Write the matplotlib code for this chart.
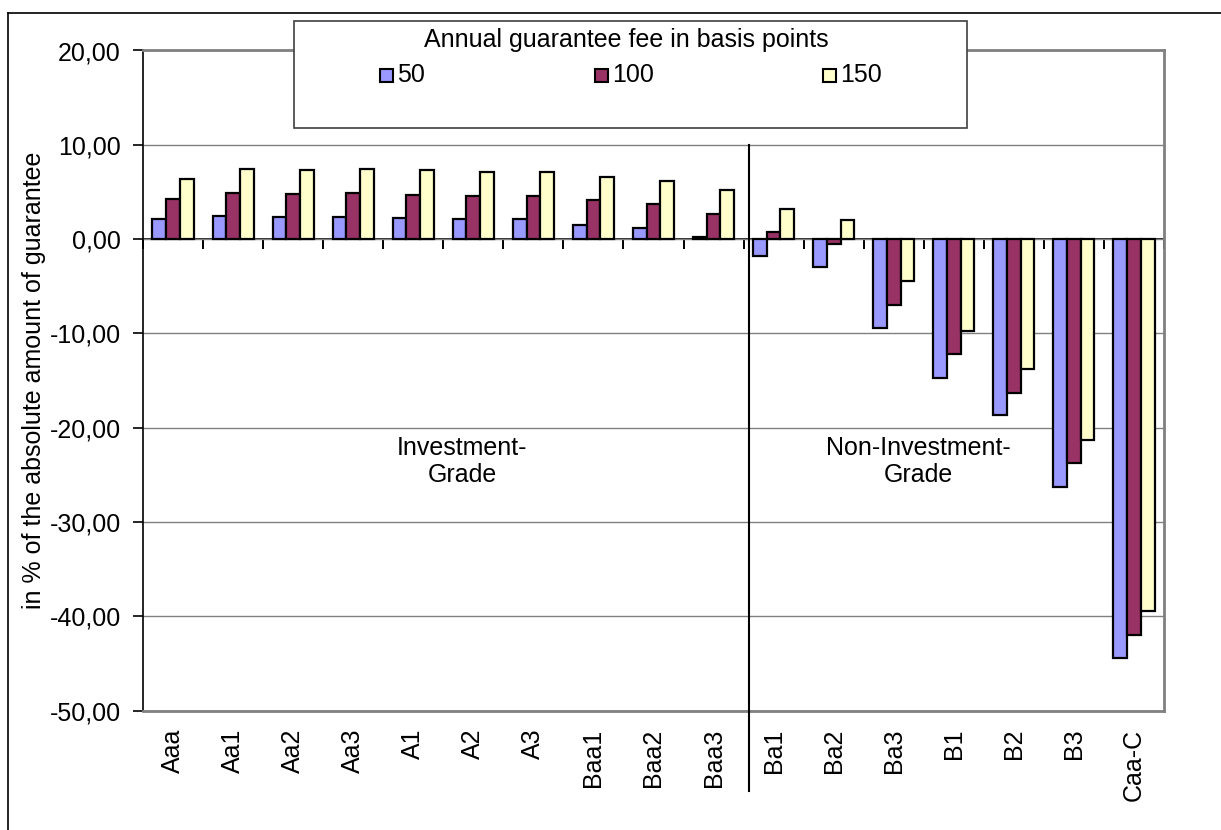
import numpy as np
import matplotlib.pyplot as plt
from matplotlib.patches import Rectangle
from matplotlib.lines import Line2D
from matplotlib.ticker import FuncFormatter

plt.rcParams['font.family'] = ['Liberation Sans', 'DejaVu Sans']

# ratings (10 investment grade, 7 non-investment grade)
categories = ['Aaa', 'Aa1', 'Aa2', 'Aa3', 'A1', 'A2', 'A3', 'Baa1', 'Baa2', 'Baa3',
              'Ba1', 'Ba2', 'Ba3', 'B1', 'B2', 'B3', 'Caa-C']
n_investment = 10

# annual guarantee fee in basis points
fees = ['50', '100', '150']
fee_50 = [2.1, 2.4, 2.3, 2.3, 2.2, 2.1, 2.1, 1.5, 1.2, 0.2,
          -1.8, -3.0, -9.4, -14.7, -18.7, -26.3, -44.4]
fee_100 = [4.3, 4.9, 4.8, 4.9, 4.7, 4.6, 4.6, 4.1, 3.7, 2.7,
           0.7, -0.5, -7.0, -12.2, -16.3, -23.7, -42.0]
fee_150 = [6.4, 7.4, 7.3, 7.4, 7.3, 7.1, 7.1, 6.6, 6.2, 5.2,
           3.2, 2.0, -4.4, -9.7, -13.8, -21.3, -39.4]
series = [fee_50, fee_100, fee_150]
colors = ['#9999FF', '#993366', '#FFFFCC']

W, H = 1221, 830
fig = plt.figure(figsize=(W / 100, H / 100), dpi=100)
ax = fig.add_axes([143 / W, 1 - 710.5 / H, 1021 / W, 660 / H])

x = np.arange(len(categories))
w = 0.228
for i, (vals, c) in enumerate(zip(series, colors)):
    ax.bar(x + (i - 1) * w, vals, w, color=c, edgecolor='black', linewidth=1.6, zorder=3)

ax.set_xlim(-0.5, len(categories) - 0.5)
ax.set_ylim(-50, 20)

# frame of the plot area
for s in ['top', 'right', 'bottom']:
    ax.spines[s].set_color('#808080')
    ax.spines[s].set_linewidth(2)
ax.spines['left'].set_color('black')
ax.spines['left'].set_linewidth(1.2)

ax.set_yticks(range(-50, 21, 10))
ax.yaxis.set_major_formatter(FuncFormatter(lambda v, p: f'{v:.2f}'.replace('.', ',')))
ax.tick_params(axis='y', direction='out', length=7, width=1.2, pad=9, labelsize=18)
ax.set_xticks(x, labels=categories, rotation=90)
ax.tick_params(axis='x', length=0, pad=13, labelsize=18)
ax.yaxis.grid(True, color='#808080', linewidth=1)
ax.set_axisbelow(True)

ax.set_ylabel('in % of the absolute amount of guarantee', fontsize=18)
ax.yaxis.set_label_coords(-0.095, 0.5)

# category axis crossing at zero
zero_pos = (0 - ax.get_ylim()[0]) / (ax.get_ylim()[1] - ax.get_ylim()[0])
sec = ax.secondary_xaxis(zero_pos)
sec.set_xticks(np.arange(-0.5, len(categories), 1))
sec.tick_params(direction='in', length=7, width=1.4, labeltop=False, labelbottom=False, color='black')
for s in sec.spines.values():
    s.set_color('black')
    s.set_linewidth(1.2)

# separator between grades
sep = n_investment - 0.41
ax.plot([sep, sep], [10, -58.5], color='black', linewidth=1.5, clip_on=False, zorder=4)
ax.text(4.81, -23.6, 'Investment-\nGrade', ha='center', va='center', fontsize=18, linespacing=1.15)
ax.text(12.41, -23.6, 'Non-Investment-\nGrade', ha='center', va='center', fontsize=18, linespacing=1.15)

# outer chart frame
fig.add_artist(Line2D([8 / W, 8 / W], [0, 1 - 12.7 / H], color='black', linewidth=1.2))
fig.add_artist(Line2D([8 / W, 1], [1 - 12.7 / H, 1 - 12.7 / H], color='black', linewidth=1.2))

# legend box
fig.add_artist(Rectangle((294 / W, 1 - 128 / H), (967 - 294) / W, (128 - 21) / H,
                         transform=fig.transFigure, facecolor='white', edgecolor='#404040',
                         linewidth=1.2, zorder=5))
fig.text(626 / W, 1 - 40 / H, 'Annual guarantee fee in basis points', ha='center', va='center',
         fontsize=18, zorder=6)
for x0, label, c in zip([380, 595, 823], fees, colors):
    fig.add_artist(Rectangle((x0 / W, 1 - 82 / H), 13 / W, 13 / H, transform=fig.transFigure,
                             facecolor=c, edgecolor='black', linewidth=1.5, zorder=6))
    fig.text((x0 + 17) / W, 1 - 75 / H, label, ha='left', va='center', fontsize=18, zorder=6)

fig.savefig('out.png', dpi=100)
